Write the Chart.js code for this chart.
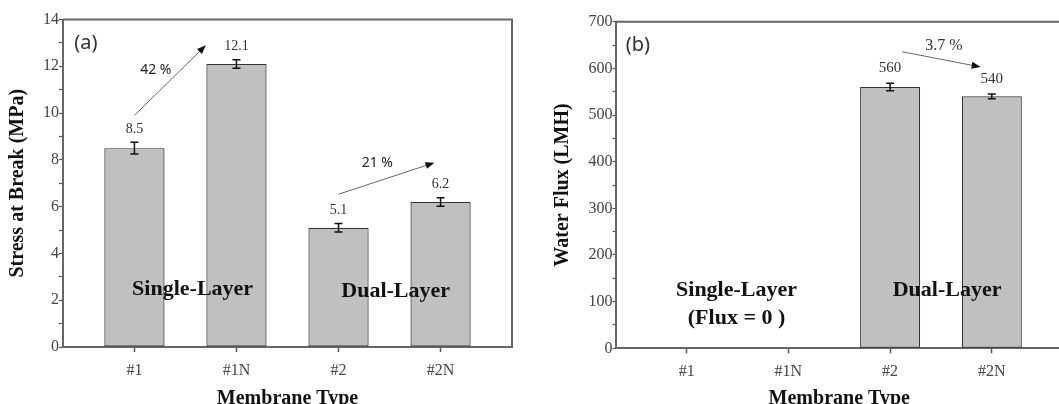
<!DOCTYPE html>
<html><head><meta charset="utf-8">
<script src="https://cdn.jsdelivr.net/npm/chart.js@4"></script>
<style>
html,body{margin:0;padding:0;background:#fff;overflow:hidden;width:1059px;height:404px}
#wrap{position:relative;width:1059px;height:404px;overflow:hidden;background:#fff}
#ca{position:absolute;left:0;top:0}
#cb{position:absolute;left:530px;top:0}
</style></head><body>
<div id="wrap"><canvas id="ca" width="530" height="404"></canvas><canvas id="cb" width="545" height="404"></canvas></div>
<script>
// ---- data ----
const categories = ['#1', '#1N', '#2', '#2N'];
const stressValues = [8.5, 12.1, 5.1, 6.2];
const stressErrors = [0.25, 0.18, 0.18, 0.18];
const stressTickLabels = [0, 2, 4, 6, 8, 10, 12, 14];
const fluxValues = [0, 0, 560, 540];
const fluxErrors = [0, 0, 8, 5];
const fluxTickLabels = [0, 100, 200, 300, 400, 500, 600, 700];
const stressChange = '42 %';
const stressChangeDual = '21 %';
const fluxChange = '3.7 %';

const SERIF = '"Liberation Serif", "Times New Roman", serif';
const SANS = '"Noto Sans", "DejaVu Sans", sans-serif';

const annotPlugin = {
  id: 'annot',
  afterDatasetsDraw(chart, args, o) {
    const ctx = chart.ctx, x = chart.scales.x, y = chart.scales.y, ca = chart.chartArea;
    const P = (p) => [x.getPixelForValue(p[0]), y.getPixelForValue(p[1])];
    ctx.save();
    // frame top & right
    ctx.strokeStyle = '#666'; ctx.lineWidth = 2;
    ctx.beginPath();
    ctx.moveTo(ca.left, ca.top); ctx.lineTo(ca.right, ca.top); ctx.lineTo(ca.right, ca.bottom);
    ctx.stroke();
    // error bars + value labels
    o.values.forEach((v, i) => {
      const e = o.errors[i];
      if (!v) return;
      const xp = x.getPixelForValue(i);
      const t = y.getPixelForValue(v + e), b = y.getPixelForValue(v - e);
      ctx.strokeStyle = '#111'; ctx.lineWidth = 1.5;
      ctx.beginPath();
      ctx.moveTo(xp, t); ctx.lineTo(xp, b);
      ctx.moveTo(xp - 4, t); ctx.lineTo(xp + 4, t);
      ctx.moveTo(xp - 4, b); ctx.lineTo(xp + 4, b);
      ctx.stroke();
      ctx.fillStyle = '#333'; ctx.font = o.valueFont;
      ctx.textAlign = 'center'; ctx.textBaseline = 'middle';
      ctx.fillText(String(v), xp, t - o.valueGap);
    });
    // arrows
    o.arrows.forEach(a => {
      const [x1, y1] = P(a.from), [x2, y2] = P(a.to);
      const ang = Math.atan2(y2 - y1, x2 - x1);
      ctx.strokeStyle = '#666'; ctx.lineWidth = 1;
      ctx.beginPath(); ctx.moveTo(x1, y1);
      ctx.lineTo(x2 - 8 * Math.cos(ang), y2 - 8 * Math.sin(ang)); ctx.stroke();
      ctx.fillStyle = '#111';
      ctx.beginPath();
      ctx.moveTo(x2, y2);
      ctx.lineTo(x2 - 9 * Math.cos(ang) + 3.5 * Math.sin(ang), y2 - 9 * Math.sin(ang) - 3.5 * Math.cos(ang));
      ctx.lineTo(x2 - 9 * Math.cos(ang) - 3.5 * Math.sin(ang), y2 - 9 * Math.sin(ang) + 3.5 * Math.cos(ang));
      ctx.closePath(); ctx.fill();
    });
    // texts
    o.texts.forEach(t => {
      const [xp, yp] = P(t.at);
      ctx.font = t.font; ctx.fillStyle = t.color || '#111';
      ctx.textAlign = t.align || 'center'; ctx.textBaseline = 'middle';
      ctx.fillText(t.text, xp, yp);
    });
    ctx.restore();
  }
};

function makeChart(id, cfg) {
  return new Chart(document.getElementById(id), {
    type: 'bar',
    data: {
      datasets: [{
        data: cfg.values.map((v, i) => ({ x: i, y: v })),
        backgroundColor: '#c0c0c0', borderColor: '#333', borderWidth: 1.2,
        borderSkipped: false, categoryPercentage: 1, barPercentage: 0.59
      }]
    },
    options: {
      responsive: false, animation: false, devicePixelRatio: 1,
      layout: { padding: cfg.padding },
      plugins: { legend: { display: false }, tooltip: { enabled: false }, annot: cfg.annot },
      scales: {
        x: {
          type: 'linear', min: -0.7, max: 3.7, offset: false,
          afterBuildTicks: s => { s.ticks = categories.map((c, i) => ({ value: i })); },
          afterFit: s => { s.height = cfg.xHeight; },
          ticks: { callback: v => categories[v], font: { family: SERIF, size: 16 }, color: '#444', padding: 9, maxRotation: 0, autoSkip: false },
          grid: { offset: false, drawOnChartArea: false, tickLength: 5, tickColor: '#555', tickWidth: 1.5 },
          border: { color: '#666', width: 2 },
          title: { display: true, text: 'Membrane Type', color: '#111', font: { family: SERIF, size: 20, weight: 'bold', lineHeight: 1 }, padding: { top: 0, bottom: -5 } }
        },
        y: {
          min: 0, max: cfg.yMax,
          afterFit: s => { s.width = cfg.yWidth; },
          ticks: { stepSize: cfg.yStep, callback: v => cfg.yLabels.includes(v) ? String(v) : '', font: { family: SERIF, size: 16 }, color: '#444', padding: 0, autoSkip: false },
          grid: { drawOnChartArea: false, tickLength: cfg.yTick, tickColor: '#555', tickWidth: 1.2 },
          border: { color: '#666', width: 2 },
          title: { display: true, text: cfg.yTitle, color: '#111', font: { family: SERIF, size: 20, weight: 'bold', lineHeight: 1.2 }, padding: { top: cfg.yTitlePad, bottom: 0 } }
        }
      }
    },
    plugins: [annotPlugin]
  });
}

makeChart('ca', {
  values: stressValues, yMax: 14, yStep: 1, yLabels: stressTickLabels, yTick: 4,
  yTitle: 'Stress at Break (MPa)', yTitlePad: 6, yWidth: 63, xHeight: 57,
  padding: { left: 0, top: 19.5, right: 18, bottom: 0 },
  annot: {
    values: stressValues, errors: stressErrors, valueFont: '14px ' + SERIF, valueGap: 13,
    arrows: [{ from: [0, 9.9], to: [0.7, 12.9] }, { from: [2.0, 6.53], to: [2.94, 7.88] }],
    texts: [
      { text: '(a)', at: [-0.59, 13.0], font: '20px ' + SANS, align: 'left', color: '#333' },
      { text: stressChange, at: [0.21, 11.85], font: '14px ' + SANS, color: '#222' },
      { text: stressChangeDual, at: [2.38, 7.86], font: '14px ' + SANS, color: '#222' },
      { text: 'Single-Layer', at: [0.57, 2.48], font: 'bold 22px ' + SERIF },
      { text: 'Dual-Layer', at: [2.56, 2.4], font: 'bold 22px ' + SERIF }
    ]
  }
});

makeChart('cb', {
  values: fluxValues, yMax: 700, yStep: 50, yLabels: fluxTickLabels, yTick: 3,
  yTitle: 'Water Flux (LMH)', yTitlePad: 21, yWidth: 85.5, xHeight: 55.7,
  padding: { left: 0, top: 21.7, right: 12, bottom: 0 },
  annot: {
    values: fluxValues, errors: fluxErrors, valueFont: '15px ' + SERIF, valueGap: 15,
    arrows: [{ from: [2.12, 635.5], to: [2.89, 603] }],
    texts: [
      { text: '(b)', at: [-0.6, 650], font: '20px ' + SANS, align: 'left', color: '#333' },
      { text: fluxChange, at: [2.53, 648], font: '16px ' + SERIF, color: '#333' },
      { text: 'Single-Layer', at: [0.49, 123.5], font: 'bold 22px ' + SERIF },
      { text: '(Flux = 0 )', at: [0.49, 65], font: 'bold 22px ' + SERIF },
      { text: 'Dual-Layer', at: [2.56, 123.5], font: 'bold 22px ' + SERIF }
    ]
  }
});
</script>
</body></html>
